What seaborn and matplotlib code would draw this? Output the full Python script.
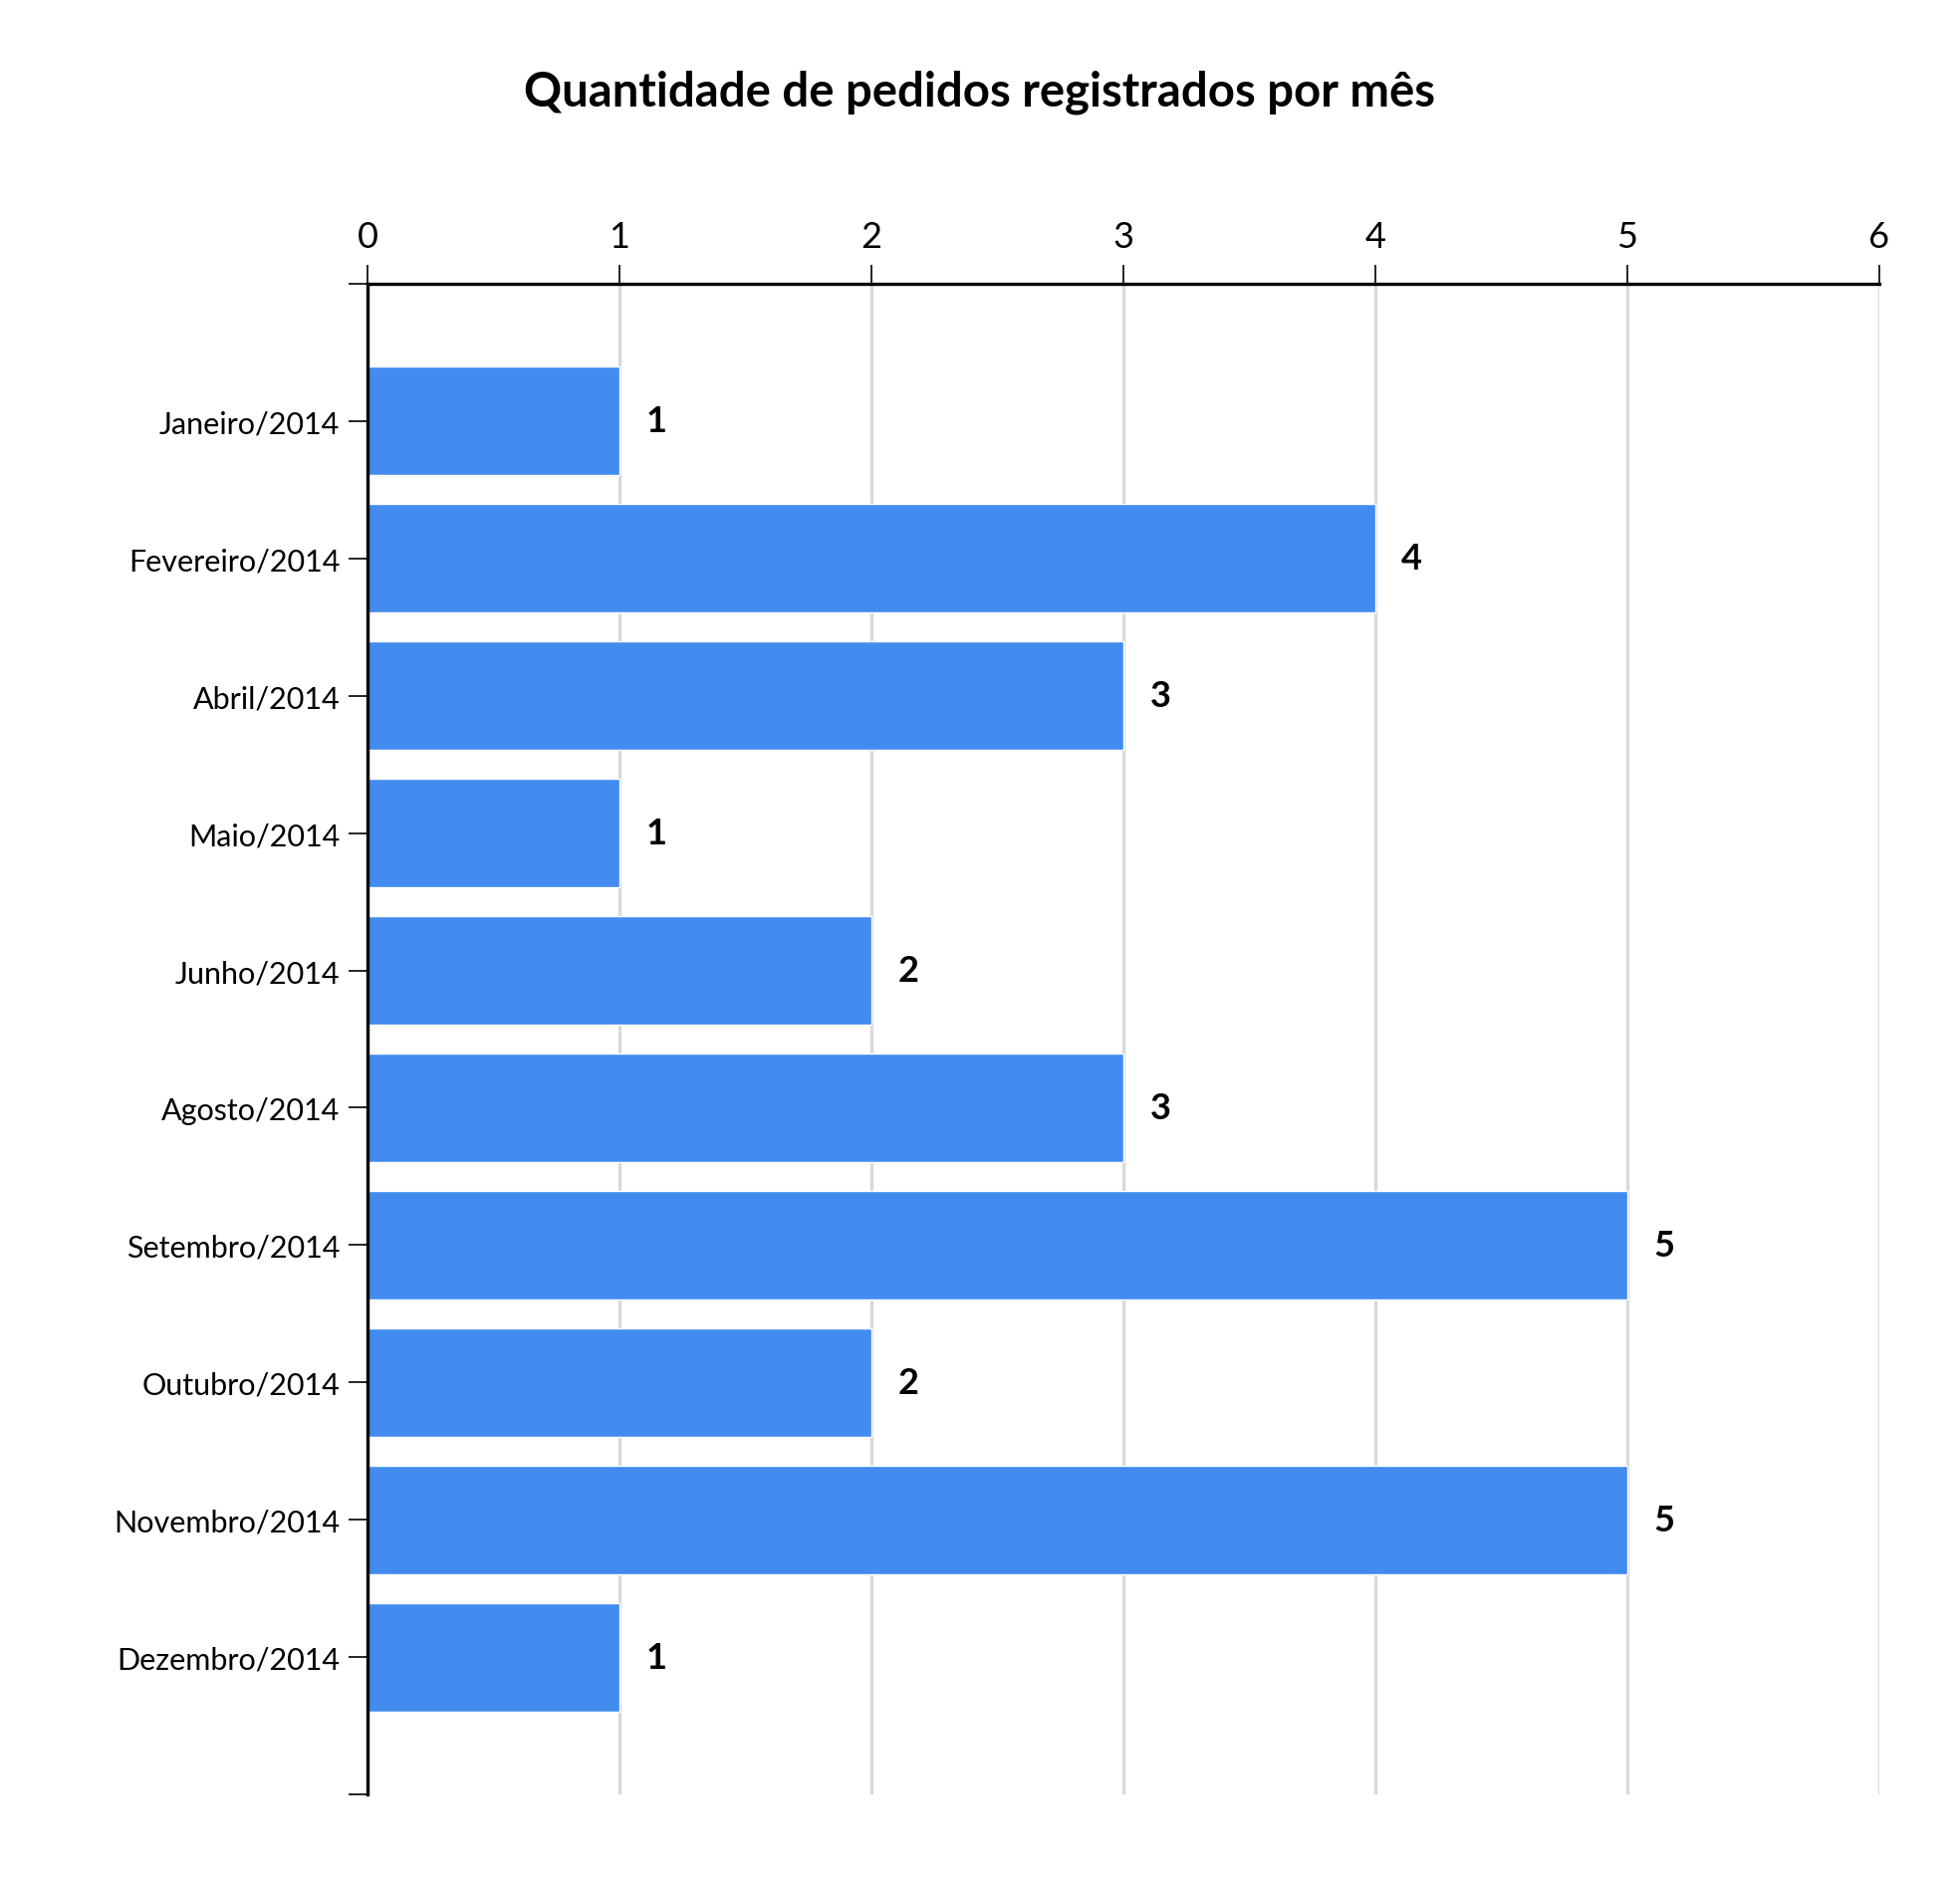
import matplotlib
matplotlib.use("Agg")
import matplotlib.pyplot as plt
import seaborn as sns
import pandas as pd

meses = ["Janeiro/2014", "Fevereiro/2014", "Abril/2014", "Maio/2014", "Junho/2014",
         "Agosto/2014", "Setembro/2014", "Outubro/2014", "Novembro/2014", "Dezembro/2014"]
pedidos = [1, 4, 3, 1, 2, 3, 5, 2, 5, 1]
x_ticks = [0, 1, 2, 3, 4, 5, 6]
titulo = "Quantidade de pedidos registrados por mês"

sns.set_theme(style="white")
plt.rcParams['font.family'] = ['Lato', 'DejaVu Sans']
plt.rcParams['text.color'] = 'black'
plt.rcParams['xtick.color'] = 'black'
plt.rcParams['ytick.color'] = 'black'
plt.rcParams['axes.labelcolor'] = 'black'

df = pd.DataFrame({"mes": meses, "pedidos": pedidos})

fig = plt.figure(figsize=(19.68, 18.9), dpi=100)
ax = fig.add_axes([0.1875, 0.046, 0.7713, 0.8027])

ax.set_axisbelow(True)
ax.xaxis.grid(True, color="#d9d9d9", linewidth=2.4)
ax.yaxis.grid(False)

sns.barplot(data=df, x="pedidos", y="mes", orient="h", color="#428CEF",
            saturation=1, width=0.79, ax=ax, zorder=2)

for i, v in enumerate(pedidos):
    ax.annotate(str(v), xy=(v, i), xytext=(19, 0), textcoords="offset points",
                ha="left", va="center", fontsize=26, fontweight="bold", color="black")

ax.set_xlim(0, 6)
ax.set_ylim(len(meses), -1)
ax.set_xticks(x_ticks)
ax.set_xticklabels([str(t) for t in x_ticks])
ax.set_yticks(range(len(meses)))
ax.set_yticklabels(meses)
ax.set_yticks([-1, len(meses)], minor=True)
ax.set_xlabel("")
ax.set_ylabel("")

ax.xaxis.tick_top()
ax.tick_params(axis="x", which="major", top=True, bottom=False, direction="out",
               length=14, width=1.2, color="black", labelcolor="black", labelsize=26, pad=8)
ax.tick_params(axis="y", which="major", left=True, direction="out",
               length=14, width=1.2, color="black", labelcolor="black", labelsize=22, pad=6)
ax.tick_params(axis="y", which="minor", left=True, direction="out",
               length=14, width=1.2, color="black")

for s in ["right", "bottom"]:
    ax.spines[s].set_visible(False)
for s in ["top", "left"]:
    ax.spines[s].set_visible(True)
    ax.spines[s].set_color("black")
    ax.spines[s].set_linewidth(2.4)

fig.text(0.5, 0.951, titulo, ha="center", va="center", fontsize=34,
         fontweight="bold", color="black")

fig.savefig("out.png", dpi=100, facecolor="white")
